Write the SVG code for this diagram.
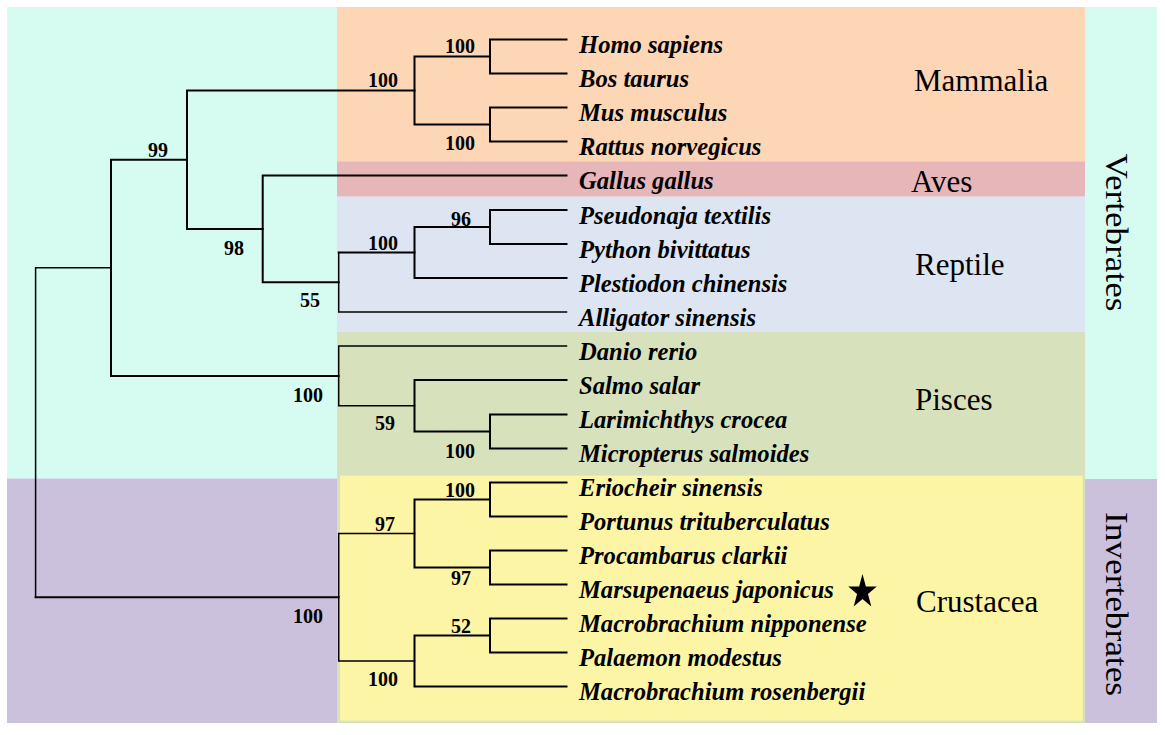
<svg xmlns="http://www.w3.org/2000/svg" width="1165" height="735" viewBox="0 0 1165 735">
<style>
.taxon{font-family:"Liberation Serif","Times New Roman",serif;font-size:24.6px;font-weight:bold;font-style:italic;fill:#000}
.sup{font-family:"Liberation Serif","Times New Roman",serif;font-size:20px;font-weight:bold;fill:#000}
.grp{font-family:"Liberation Serif","Times New Roman",serif;font-size:31px;fill:#000}
.br{fill:none;stroke:#000;stroke-width:2;stroke-linecap:square;stroke-linejoin:miter}
.thin{stroke-width:1.5}
</style>
<rect width="1165" height="735" fill="#ffffff"/>
<g id="bands">
  <rect id="vert-left" x="7" y="7" width="330" height="471.5" fill="#d6fcf1"/>
  <rect id="invert-left" x="7" y="478.5" width="330" height="244.5" fill="#ccc1dc"/>
  <rect id="vert-right" x="1085" y="7" width="72" height="472" fill="#d6fcf1"/>
  <rect id="invert-right" x="1085" y="479" width="72" height="244" fill="#ccc1dc"/>
  <rect id="mammalia-band" x="337" y="7" width="748" height="154.3" fill="#fdd6b5"/>
  <rect id="aves-band" x="337" y="161.3" width="748" height="35.4" fill="#e6b6b9"/>
  <rect id="reptile-band" x="337" y="196.7" width="748" height="135" fill="#dce5f1"/>
  <rect id="pisces-band" x="337" y="331.7" width="748" height="391.3" fill="#d7e2bd"/>
  <rect id="crustacea-band" x="340" y="475.7" width="742.7" height="245" fill="#fcf5a6"/>
</g>
<g id="groups">
  <g id="lbl-mammalia"><text class="grp" x="914" y="91">Mammalia</text></g>
  <g id="lbl-aves"><text class="grp" x="911" y="192">Aves</text></g>
  <g id="lbl-reptile"><text class="grp" x="915" y="275">Reptile</text></g>
  <g id="lbl-pisces"><text class="grp" x="915" y="410">Pisces</text></g>
  <g id="lbl-crustacea"><text class="grp" x="916" y="612">Crustacea</text></g>
  <g id="lbl-vertebrates"><text class="grp" transform="translate(1106,232.5) rotate(90)" text-anchor="middle" font-size="32" textLength="158" lengthAdjust="spacingAndGlyphs">Vertebrates</text></g>
  <g id="lbl-invertebrates"><text class="grp" transform="translate(1106,604) rotate(90)" text-anchor="middle" font-size="32" textLength="184" lengthAdjust="spacingAndGlyphs">Invertebrates</text></g>
</g>
<g id="connectors">
  <path class="br" d="M566.5 39.5 H490 V73.5 H566.5"/>
  <path class="br" d="M566.5 107.5 H490 V141.5 H566.5"/>
  <path class="br" d="M490 56.5 H414.5 V124.5 H490"/>
  <path class="br" d="M566.5 210 H490 V244 H566.5"/>
  <path class="br" d="M490 227 H414.5 V278 H566.5"/>
  <path class="br" d="M414.5 252.5 H338.7"/>
  <path class="br thin" d="M338.7 252.5 V312 H566.5"/>
  <path class="br" d="M566.5 175.5 H262.7 V282.3 H338.7"/>
  <path class="br" d="M414.5 90.5 H187 V229 H262.7"/>
  <path class="br" d="M566.5 414.5 H490 V448.5 H566.5"/>
  <path class="br" d="M566.5 380 H414.5 V431.5 H490"/>
  <path class="br thin" d="M566.5 346 H338.7 V405.8 H414.5"/>
  <path class="br" d="M187 159.8 H111 V376 H338.7"/>
  <path class="br" d="M566.5 482.5 H490 V516.5 H566.5"/>
  <path class="br" d="M566.5 550.5 H490 V584.5 H566.5"/>
  <path class="br" d="M490 499.5 H414.5 V567.5 H490"/>
  <path class="br" d="M566.5 618.5 H490 V652.5 H566.5"/>
  <path class="br" d="M490 635.5 H414.5 V686.5 H566.5"/>
  <path class="br thin" d="M414.5 533.5 H338.7 V661 H414.5"/>
  <path class="br thin" d="M111 267.8 H35.6 V597.3"/>
  <path class="br" d="M35.6 597.3 H338.7"/>
</g>
<g id="support">
  <g id="s-homo-bos"><text class="sup" x="445" y="53.3">100</text></g>
  <g id="s-mammalia"><text class="sup" x="368" y="87">100</text></g>
  <g id="s-mus-rattus"><text class="sup" x="445" y="150">100</text></g>
  <g id="s-99"><text class="sup" x="148" y="157">99</text></g>
  <g id="s-98"><text class="sup" x="224" y="255">98</text></g>
  <g id="s-96"><text class="sup" x="451" y="226">96</text></g>
  <g id="s-reptile"><text class="sup" x="368" y="250">100</text></g>
  <g id="s-55"><text class="sup" x="300" y="306.7">55</text></g>
  <g id="s-pisces"><text class="sup" x="293" y="401.7">100</text></g>
  <g id="s-59"><text class="sup" x="375" y="430">59</text></g>
  <g id="s-larim"><text class="sup" x="445" y="458.3">100</text></g>
  <g id="s-crab"><text class="sup" x="445" y="496.7">100</text></g>
  <g id="s-97a"><text class="sup" x="375" y="531">97</text></g>
  <g id="s-97b"><text class="sup" x="451" y="585">97</text></g>
  <g id="s-crustacea"><text class="sup" x="293" y="622.7">100</text></g>
  <g id="s-52"><text class="sup" x="451" y="633.3">52</text></g>
  <g id="s-macro"><text class="sup" x="368" y="686">100</text></g>
</g>
<g id="taxa">
  <g id="t-homo"><text class="taxon" x="579" y="53">Homo sapiens</text></g>
  <g id="t-bos"><text class="taxon" x="579" y="87">Bos taurus</text></g>
  <g id="t-mus"><text class="taxon" x="579" y="121">Mus musculus</text></g>
  <g id="t-rattus"><text class="taxon" x="579" y="155">Rattus norvegicus</text></g>
  <g id="t-gallus"><text class="taxon" x="579" y="189">Gallus gallus</text></g>
  <g id="t-pseudonaja"><text class="taxon" x="579" y="223.5">Pseudonaja textilis</text></g>
  <g id="t-python"><text class="taxon" x="579" y="257.5">Python bivittatus</text></g>
  <g id="t-plestiodon"><text class="taxon" x="579" y="291.5">Plestiodon chinensis</text></g>
  <g id="t-alligator"><text class="taxon" x="579" y="325.5">Alligator sinensis</text></g>
  <g id="t-danio"><text class="taxon" x="579" y="359.5">Danio rerio</text></g>
  <g id="t-salmo"><text class="taxon" x="579" y="393.5">Salmo salar</text></g>
  <g id="t-larimichthys"><text class="taxon" x="579" y="428">Larimichthys crocea</text></g>
  <g id="t-micropterus"><text class="taxon" x="579" y="462">Micropterus salmoides</text></g>
  <g id="t-eriocheir"><text class="taxon" x="579" y="496">Eriocheir sinensis</text></g>
  <g id="t-portunus"><text class="taxon" x="579" y="530">Portunus trituberculatus</text></g>
  <g id="t-procambarus"><text class="taxon" x="579" y="564">Procambarus clarkii</text></g>
  <g id="t-marsupenaeus"><text class="taxon" x="579" y="598">Marsupenaeus japonicus</text>
    <polygon points="862.5,574 865.87,586.44 876.77,586.44 867.95,594.12 871.32,606.56 862.5,598.88 853.68,606.56 857.05,594.12 848.23,586.44 859.13,586.44" fill="#000"/></g>
  <g id="t-macro-nip"><text class="taxon" x="579" y="632">Macrobrachium nipponense</text></g>
  <g id="t-palaemon"><text class="taxon" x="579" y="666">Palaemon modestus</text></g>
  <g id="t-macro-ros"><text class="taxon" x="579" y="700">Macrobrachium rosenbergii</text></g>
</g>
</svg>
